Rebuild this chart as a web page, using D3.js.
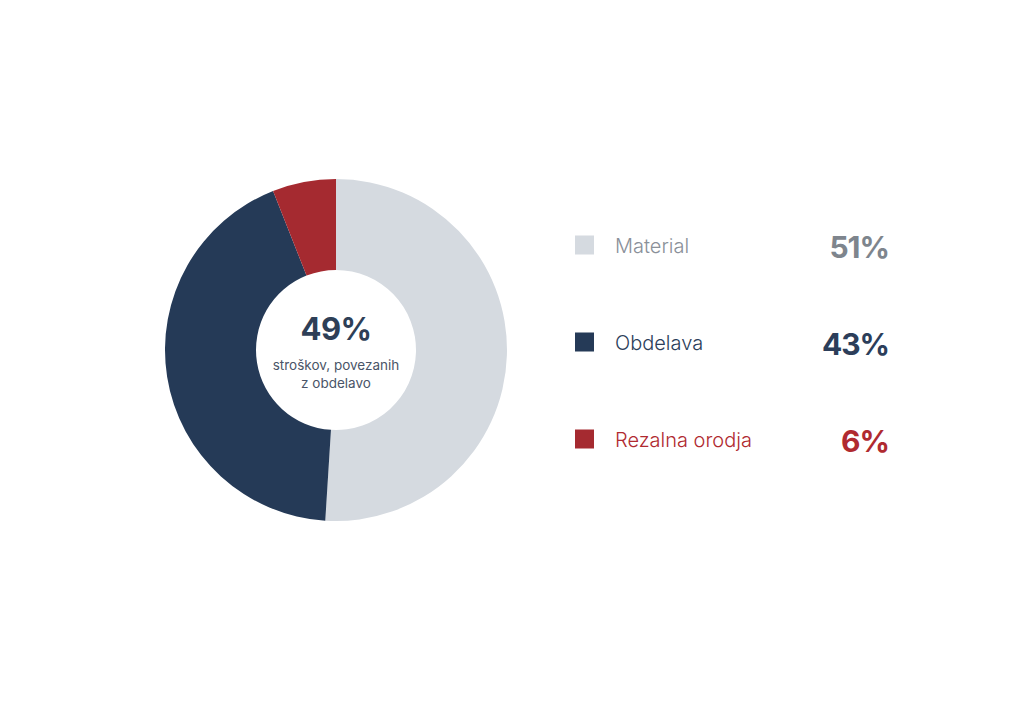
<!DOCTYPE html>
<html>
<head>
<meta charset="utf-8">
<script src="https://cdn.jsdelivr.net/npm/d3@7"></script>
<style>
  html, body { margin: 0; padding: 0; background: #ffffff; }
  svg { display: block; font-family: Inter, "Open Sans", sans-serif; }
</style>
</head>
<body>
<svg id="chart" width="1024" height="712"></svg>
<script>
// Cost breakdown (share, %)
const categories = ['Material', 'Obdelava', 'Rezalna orodja'];
const shares = [51, 43, 6];
const sliceColors = ['#d5dae0', '#253a57', '#a52a30'];
const labelColors = ['#8a9099', '#2c3e5a', '#b02a30'];
const valueColors = ['#7e858d', '#2c3e5a', '#b02a30'];

const centerValue = '49%';
const centerLines = ['stroškov, povezanih', 'z obdelavo'];

const svg = d3.select('#chart');

const cx = 336;
const cy = 350;
const outerR = 171;
const innerR = 80;

const pie = d3.pie().sort(null).value(d => d);
const arc = d3.arc().innerRadius(innerR).outerRadius(outerR);

const donut = svg.append('g').attr('transform', `translate(${cx},${cy})`);

donut.selectAll('path')
    .data(pie(shares))
    .enter()
    .append('path')
    .attr('d', arc)
    .attr('fill', (d, i) => sliceColors[i]);

donut.append('text')
    .attr('text-anchor', 'middle')
    .attr('y', -10)
    .attr('font-size', 31)
    .attr('font-weight', 700)
    .attr('letter-spacing', -0.5)
    .attr('fill', '#2e3f57')
    .text(centerValue);

donut.selectAll('.sub')
    .data(centerLines)
    .enter()
    .append('text')
    .attr('class', 'sub')
    .attr('text-anchor', 'middle')
    .attr('y', (d, i) => 20 + i * 18)
    .attr('font-size', 13.5)
    .attr('fill', '#4a5568')
    .text(d => d);

// legend
const rowY = d3.scalePoint().domain(categories).range([245, 439]);

const legend = svg.append('g');
const rows = legend.selectAll('g')
    .data(categories)
    .enter()
    .append('g')
    .attr('transform', d => `translate(0,${rowY(d)})`);

rows.append('rect')
    .attr('x', 575)
    .attr('y', -9.5)
    .attr('width', 19)
    .attr('height', 19)
    .attr('fill', (d, i) => sliceColors[i]);

rows.append('text')
    .attr('x', 615)
    .attr('y', 8)
    .attr('font-size', 20)
    .attr('font-weight', 300)
    .attr('fill', (d, i) => labelColors[i])
    .text(d => d);

rows.append('text')
    .attr('x', 889)
    .attr('y', 13)
    .attr('text-anchor', 'end')
    .attr('font-size', 30)
    .attr('font-weight', 700)
    .attr('letter-spacing', -1)
    .attr('fill', (d, i) => valueColors[i])
    .text((d, i) => shares[i] + '%');
</script>
</body>
</html>
